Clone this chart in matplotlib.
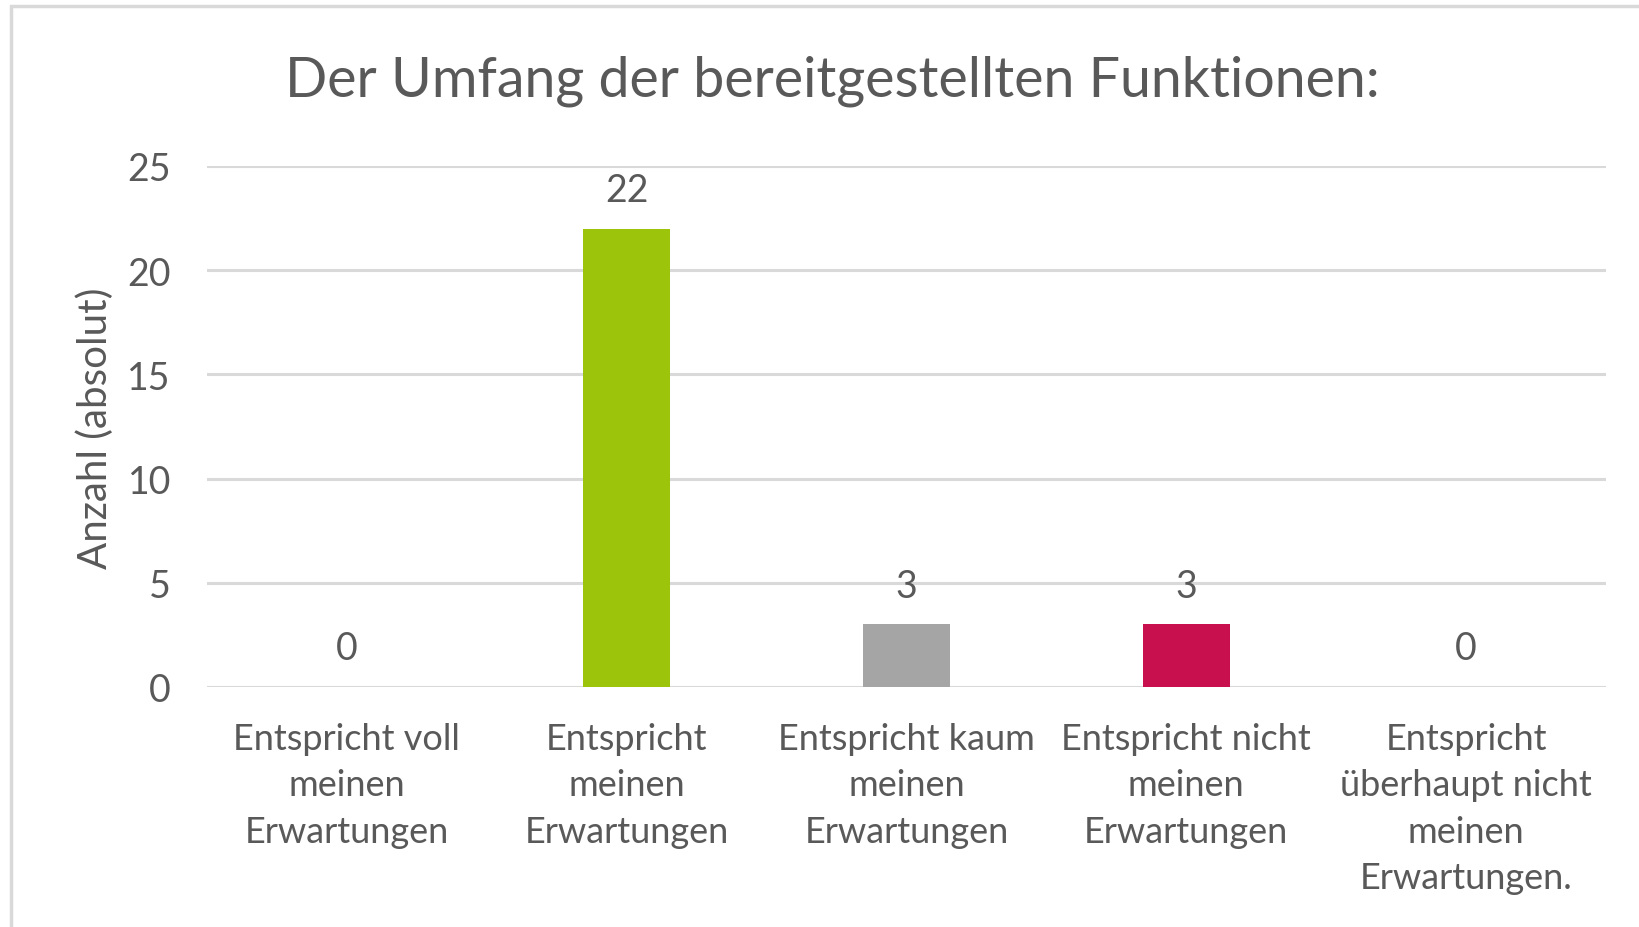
import matplotlib
matplotlib.use('Agg')
import matplotlib.pyplot as plt
from matplotlib.patches import Rectangle

plt.rcParams['font.family'] = ['Lato', 'DejaVu Sans']

# data
categories = [
    'Entspricht voll\nmeinen\nErwartungen',
    'Entspricht\nmeinen\nErwartungen',
    'Entspricht kaum\nmeinen\nErwartungen',
    'Entspricht nicht\nmeinen\nErwartungen',
    'Entspricht\nüberhaupt nicht\nmeinen\nErwartungen.',
]
counts = [0, 22, 3, 3, 0]
bar_colors = ['#2E75B6', '#9BC40B', '#A5A5A5', '#C8104F', '#2E75B6']
y_ticks = [0, 5, 10, 15, 20, 25]

title = 'Der Umfang der bereitgestellten Funktionen:'
y_label = 'Anzahl (absolut)'

text_color = '#595959'
grid_color = '#D9D9D9'

W, H = 1639, 928
fig = plt.figure(figsize=(W / 100, H / 100), dpi=100)
fig.patch.set_facecolor('white')

# chart border (cropped at right and bottom)
fig.patches.append(Rectangle((11 / W, -0.05), 1.1, 1 - 7 / H + 0.05,
                             transform=fig.transFigure, fill=False,
                             edgecolor=grid_color, linewidth=2.5))

left, right = 207 / W, 1606 / W
bottom, top = 1 - 688 / H, 1 - 167 / H
ax = fig.add_axes([left, bottom, right - left, top - bottom])

x = list(range(len(categories)))
ax.bar(x, counts, width=0.31, color=bar_colors, zorder=3)

for xi, v in zip(x, counts):
    ax.annotate(str(v), (xi, v), xytext=(0, 28), textcoords='offset points',
                ha='center', va='center', fontsize=27, color=text_color)

ax.set_xlim(-0.5, len(categories) - 0.5)
ax.set_ylim(0, 25)
ax.set_yticks(y_ticks)
ax.set_xticks(x)
ax.set_xticklabels(categories, fontsize=26, color=text_color, linespacing=1.5)
ax.tick_params(axis='y', length=0, pad=26, labelsize=27, labelcolor=text_color)
ax.tick_params(axis='x', length=0, pad=25)

ax.grid(axis='y', color=grid_color, linewidth=2.2, zorder=0)
for s in ax.spines.values():
    s.set_visible(False)

fig.text(95 / W, 1 - 428 / H, y_label, rotation=90, ha='center', va='center',
         fontsize=29, color=text_color)
fig.text(832 / W, 1 - 81 / H, title, ha='center', va='center',
         fontsize=40, color=text_color)

fig.savefig('out.png', dpi=100)
